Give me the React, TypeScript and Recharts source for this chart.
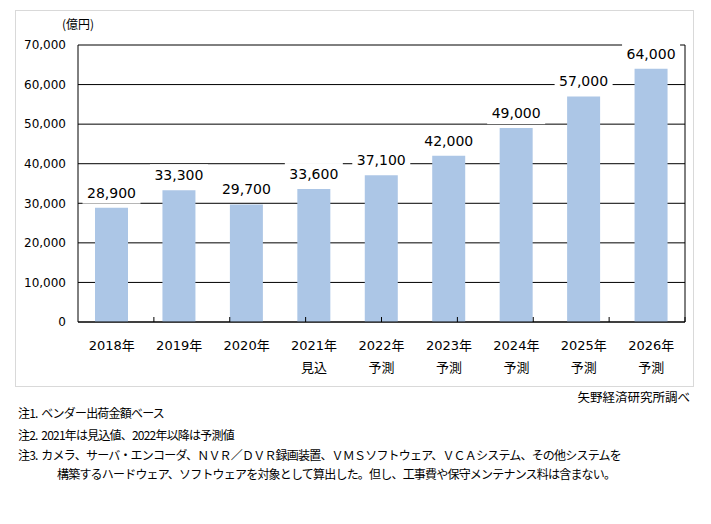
import { BarChart, Bar, XAxis, YAxis, CartesianGrid, LabelList } from "recharts";

const categories = ["2018年", "2019年", "2020年", "2021年", "2022年", "2023年", "2024年", "2025年", "2026年"];
const subLabels = ["", "", "", "見込", "予測", "予測", "予測", "予測", "予測"];
const values = [28900, 33300, 29700, 33600, 37100, 42000, 49000, 57000, 64000];
const yTicks = [0, 10000, 20000, 30000, 40000, 50000, 60000, 70000];
const boundaryTicks = [1, 2, 3, 4, 5, 6, 7, 8];

const notes = [
  "注1.  ベンダー出荷金額ベース",
  "注2.  2021年は見込値、2022年以降は予測値",
  "注3.  カメラ、サーバ・エンコーダ、ＮＶＲ／ＤＶＲ録画装置、ＶＭＳソフトウェア、ＶＣＡシステム、その他システムを",
];
const noteCont = "構築するハードウェア、ソフトウェアを対象として算出した。但し、工事費や保守メンテナンス料は含まない。";

const data = categories.map((name, i) => ({ name, sub: subLabels[i], value: values[i] }));

const numFont = "'DejaVu Sans', 'Noto Sans CJK JP', sans-serif";
const jpFont = "'Noto Sans CJK JP', sans-serif";

function XTick(props: any) {
  const { x, y, payload, index } = props;
  const sub = subLabels[index] ?? "";
  return (
    <g>
      <text x={x} y={y + 28} textAnchor="middle" fontSize={13} fill="#000" fontFamily={numFont}>
        {payload.value}
      </text>
      {sub && (
        <text x={x} y={y + 50} textAnchor="middle" fontSize={13} fill="#000" fontFamily={jpFont}>
          {sub}
        </text>
      )}
    </g>
  );
}

function ValueLabel(props: any) {
  const { x, y, width, value } = props;
  const cx = x + width / 2;
  return (
    <g>
      <rect x={cx - 29} y={y - 26} width={58} height={22} fill="#fff" />
      <text x={cx} y={y - 10} textAnchor="middle" fontSize={14} fill="#000" fontFamily={numFont}>
        {Number(value).toLocaleString("en-US")}
      </text>
    </g>
  );
}

export default function App() {
  return (
    <div style={{ position: "absolute", left: 0, top: 0, width: 711, height: 524, background: "#fff" }}>
      <div
        style={{
          position: "absolute",
          left: 15,
          top: 10,
          width: 677,
          height: 375,
          border: "1px solid #d9d9d9",
        }}
      />
      <div style={{ position: "absolute", left: 0, top: 0 }}>
        <BarChart
          width={711}
          height={524}
          data={data}
          margin={{ top: 45, right: 25, left: 18, bottom: 142 }}
        >
          <CartesianGrid vertical={false} stroke="#000" strokeWidth={1} />
          <XAxis
            dataKey="name"
            height={60}
            axisLine={{ stroke: "#000" }}
            tickLine={false}
            tickSize={0}
            tickMargin={0}
            interval={0}
            tick={<XTick />}
          />
          <XAxis
            xAxisId="b"
            type="number"
            domain={[0, 9]}
            allowDataOverflow
            ticks={boundaryTicks}
            mirror
            height={10}
            axisLine={false}
            tickLine={{ stroke: "#000" }}
            tickSize={5}
            tick={() => null}
          />
          <YAxis
            width={60}
            domain={[0, 70000]}
            ticks={yTicks}
            interval={0}
            axisLine={{ stroke: "#000" }}
            tickLine={false}
            tickSize={0}
            tickMargin={12}
            tick={{ fontSize: 12, fill: "#000", fontFamily: numFont }}
            tickFormatter={(v: number) => v.toLocaleString("en-US")}
          />
          <YAxis
            yAxisId="r"
            orientation="right"
            width={1}
            domain={[0, 70000]}
            axisLine={{ stroke: "#000" }}
            tickLine={false}
            tick={false}
          />
          <Bar dataKey="value" fill="#ACC6E6" barSize={33} isAnimationActive={false}>
            <LabelList dataKey="value" content={<ValueLabel />} />
          </Bar>
        </BarChart>
      </div>
      <div style={{ position: "absolute", left: 62, top: 15, fontSize: 12, fontFamily: jpFont, color: "#000" }}>
        (億円)
      </div>
      <div
        style={{
          position: "absolute",
          right: 21,
          top: 387,
          fontSize: 12.5,
          fontFamily: jpFont,
          color: "#000",
          whiteSpace: "nowrap",
        }}
      >
        矢野経済研究所調べ
      </div>
      {notes.map((n, i) => (
        <div
          key={i}
          style={{
            position: "absolute",
            left: 18,
            top: [404, 426, 446][i],
            fontSize: 12,
            letterSpacing: -0.8,
            fontFamily: jpFont,
            color: "#000",
            whiteSpace: "pre",
          }}
        >
          {n}
        </div>
      ))}
      <div
        style={{
          position: "absolute",
          left: 57,
          top: 465,
          fontSize: 12,
          letterSpacing: -0.8,
          fontFamily: jpFont,
          color: "#000",
          whiteSpace: "pre",
        }}
      >
        {noteCont}
      </div>
    </div>
  );
}
